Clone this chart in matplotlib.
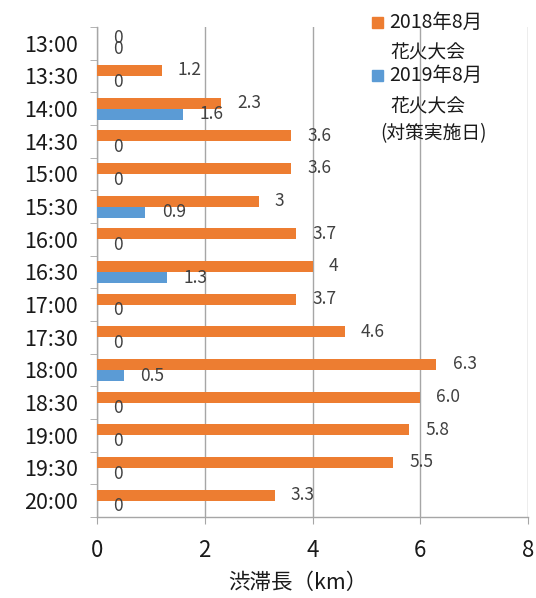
import matplotlib.pyplot as plt
from matplotlib.patches import Rectangle
from matplotlib.ticker import FixedLocator
import numpy as np

plt.rcParams['font.family'] = ['Noto Sans CJK JP', 'DejaVu Sans']

times = ["13:00", "13:30", "14:00", "14:30", "15:00", "15:30", "16:00", "16:30",
         "17:00", "17:30", "18:00", "18:30", "19:00", "19:30", "20:00"]
val_2018 = [0, 1.2, 2.3, 3.6, 3.6, 3.0, 3.7, 4.0, 3.7, 4.6, 6.3, 6.0, 5.8, 5.5, 3.3]
val_2019 = [0, 0, 1.6, 0, 0, 0.9, 0, 1.3, 0, 0, 0.5, 0, 0, 0, 0]
lbl_2018 = ["0", "1.2", "2.3", "3.6", "3.6", "3", "3.7", "4", "3.7", "4.6", "6.3", "6.0", "5.8", "5.5", "3.3"]
lbl_2019 = ["0", "0", "1.6", "0", "0", "0.9", "0", "1.3", "0", "0", "0.5", "0", "0", "0", "0"]

c18 = '#ED7D31'
c19 = '#5B9BD5'
gray = '#a6a6a6'
W, H = 536, 598

fig = plt.figure(figsize=(W / 100, H / 100), dpi=100)
ax = fig.add_axes([97 / W, 1 - 517 / H, 431 / W, 490 / H])

y = np.arange(len(times))
bh = 0.34
ax.barh(y - bh / 2, val_2018, height=bh, color=c18, zorder=3)
ax.barh(y + bh / 2, val_2019, height=bh, color=c19, zorder=3)

off = 0.3
for yi, v, t in zip(y, val_2018, lbl_2018):
    ax.text(v + off, yi - bh / 2, t, ha='left', va='center', fontsize=12.5, color='#404040', zorder=4)
for yi, v, t in zip(y, val_2019, lbl_2019):
    ax.text(v + off, yi + bh / 2, t, ha='left', va='center', fontsize=12.5, color='#404040', zorder=4)

ax.set_xlim(0, 8)
ax.set_ylim(len(times) - 0.5, -0.5)
ax.set_xticks([0, 2, 4, 6, 8])
ax.set_yticks(y)
ax.set_yticklabels(times, fontsize=15.5, color='#1a1a1a')
ax.yaxis.set_minor_locator(FixedLocator(np.arange(-0.5, len(times), 1)))
ax.tick_params(axis='y', which='major', length=0, pad=14)
ax.tick_params(axis='y', which='minor', length=5, color=gray, direction='out')
ax.tick_params(axis='x', which='major', length=5, color=gray, labelsize=16, pad=11, labelcolor='#1a1a1a')
ax.grid(axis='x', color=gray, linewidth=1, zorder=0)
for s in ['top', 'right']:
    ax.spines[s].set_visible(False)
for s in ['left', 'bottom']:
    ax.spines[s].set_color(gray)
    ax.spines[s].set_linewidth(1)

fig.text(298 / W, 1 - 583 / H, "渋滞長（km）", ha='center', va='center', fontsize=15.5, color='#1a1a1a')

# legend drawn by hand (marker next to first line only)
def fx(px):
    return px / W

def fy(py):
    return 1 - py / H

sq = 11
for py, col in [(22, c18), (75, c19)]:
    fig.add_artist(Rectangle((fx(372), fy(py + sq / 2)), sq / W, sq / H,
                             transform=fig.transFigure, color=col))
fig.text(fx(389), fy(22), "2018年8月", ha='left', va='center', fontsize=14, color='#1a1a1a')
fig.text(fx(428), fy(53), "花火大会", ha='center', va='center', fontsize=13.5, color='#1a1a1a')
fig.text(fx(389), fy(75), "2019年8月", ha='left', va='center', fontsize=14, color='#1a1a1a')
fig.text(fx(428), fy(107), "花火大会", ha='center', va='center', fontsize=13.5, color='#1a1a1a')
fig.text(fx(434), fy(134), "(対策実施日)", ha='center', va='center', fontsize=13.5, color='#1a1a1a')

fig.savefig("out.png", dpi=100)
